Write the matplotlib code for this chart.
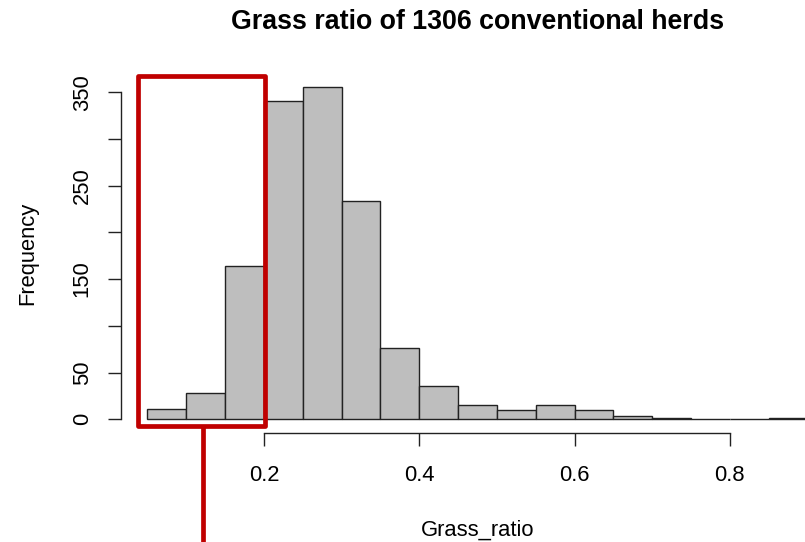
import matplotlib
matplotlib.use("Agg")
import matplotlib.pyplot as plt
import numpy as np
from matplotlib.patches import Rectangle

plt.rcParams['font.family'] = ['Liberation Sans', 'DejaVu Sans']

# ---- data ----
bin_edges = [0.05, 0.10, 0.15, 0.20, 0.25, 0.30, 0.35, 0.40, 0.45, 0.50,
             0.55, 0.60, 0.65, 0.70, 0.75, 0.80, 0.85, 0.90]
counts = [11, 28, 164, 341, 356, 234, 76, 36, 15, 10, 15, 10, 4, 1, 0, 0, 1]
x_ticks = [0.2, 0.4, 0.6, 0.8]
x_tick_labels = ["0.2", "0.4", "0.6", "0.8"]
y_ticks = [0, 50, 100, 150, 200, 250, 300, 350]
y_tick_labels = ["0", "50", "", "150", "", "250", "", "350"]
title = "Grass ratio of 1306 conventional herds"
x_label = "Grass_ratio"
y_label = "Frequency"
# highlighted region (annotation box)
highlight_x = (0.0384, 0.2019)
highlight_y = (-7.2, 367.2)
pointer_x = 0.1221

fig = plt.figure(figsize=(8.05, 5.42), dpi=100)
ax = fig.add_axes([0.1503, 0.2018, 0.8857, 0.6631])

lefts = np.array(bin_edges[:-1])
widths = np.diff(bin_edges)
ax.bar(lefts, counts, width=widths, align='edge', color='#BEBEBE',
       edgecolor='#222222', linewidth=1.0)

pad_x = 0.04 * (bin_edges[-1] - bin_edges[0])
ax.set_xlim(bin_edges[0] - pad_x, bin_edges[-1] + pad_x)
ymax = max(counts)
ax.set_ylim(-0.04 * ymax, ymax * 1.04)

for s in ['top', 'right']:
    ax.spines[s].set_visible(False)
ax.spines['left'].set_bounds(y_ticks[0], y_ticks[-1])
ax.spines['bottom'].set_bounds(x_ticks[0], x_ticks[-1])
for s in ['left', 'bottom']:
    ax.spines[s].set_linewidth(1.0)
    ax.spines[s].set_color('#222222')

fs = 15.8
ax.set_xticks(x_ticks)
ax.set_xticklabels(x_tick_labels, fontsize=fs)
ax.set_yticks(y_ticks)
ax.set_yticklabels(y_tick_labels, fontsize=fs, rotation=90, va='center')
ax.tick_params(axis='x', length=9.4, width=1.0, pad=14.0, color='#222222')
ax.tick_params(axis='y', length=9.4, width=1.0, pad=11.0, color='#222222')

ax.set_xlabel(x_label, fontsize=fs)
ax.xaxis.set_label_coords(0.5, -0.287)
ax.xaxis.label.set_va('baseline')
ax.set_ylabel(y_label, fontsize=fs, va='center')
ax.yaxis.set_label_coords(-0.1304, 0.5)

ax.set_title(title, fontsize=19.3, fontweight='bold', y=1.124, va='baseline', pad=0)

# red annotation
rect = Rectangle((highlight_x[0], highlight_y[0]), highlight_x[1] - highlight_x[0],
                 highlight_y[1] - highlight_y[0], fill=False, edgecolor='#C00000',
                 linewidth=3.4, clip_on=False, joinstyle='round', zorder=5)
ax.add_patch(rect)
ax.plot([pointer_x, pointer_x], [highlight_y[0], -200], color='#C00000',
        linewidth=3.4, clip_on=False, zorder=5, solid_capstyle='butt')

fig.savefig("out.png", dpi=100)
